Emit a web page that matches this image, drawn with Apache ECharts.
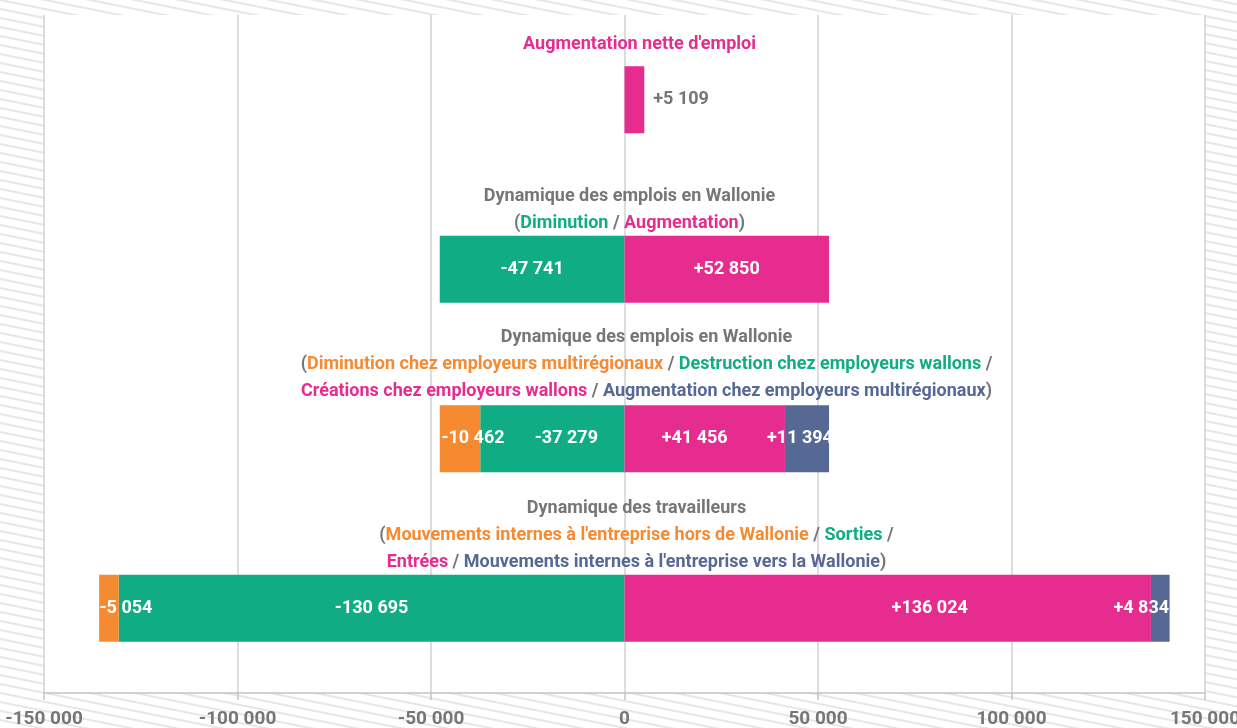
<!DOCTYPE html>
<html><head><meta charset="utf-8">
<script src="https://cdn.jsdelivr.net/npm/echarts@6/dist/echarts.min.js"></script>
<style>html,body{margin:0;padding:0;background:#fff;overflow:hidden}#c{width:1237px;height:728px}</style>
</head><body><div id="c"></div>
<script>
// ---- data ----
const categories = ["Augmentation nette d'emploi", "Dynamique des emplois (2)", "Dynamique des emplois (4)", "Dynamique des travailleurs"];
const seriesNames = ["Destruction / Sorties", "Diminution multirégionaux / Mouvements hors Wallonie", "Créations / Entrées", "Augmentation multirégionaux / Mouvements vers la Wallonie"];
const greenValues = [null, -47741, -37279, -130695];
const orangeValues = [null, null, -10462, -5054];
const magentaValues = [5109, 52850, 41456, 136024];
const blueValues = [null, null, 11394, 4834];
const xTicks = { min: -150000, max: 150000, step: 50000 };

// ---- style ----
const FONT = "Roboto,'Liberation Sans Narrow','Open Sans',sans-serif";
const C = { gray: '#767676', orange: '#F58A31', green: '#10AC84', magenta: '#E62C8F', blue: '#566894' };
const labelDx = { green: [0, 0, 14, 0], orange: [0, 0, 13, 17], magenta: [0, 0, -10, 42], blue: [0, 0, -7, -19] };

function fmt(v) {
  const s = Math.abs(v).toString().replace(/\B(?=(\d{3})+(?!\d))/g, ' ');
  return (v < 0 ? '-' : '+') + s;
}

function pattern() {
  const cv = document.createElement('canvas');
  cv.width = 45; cv.height = 9;
  const g = cv.getContext('2d');
  g.fillStyle = '#ffffff'; g.fillRect(0, 0, 45, 9);
  g.strokeStyle = '#e6e6e6'; g.lineWidth = 2;
  for (let k = -2; k <= 2; k++) {
    g.beginPath(); g.moveTo(-45, k * 9 - 9); g.lineTo(90, k * 9 + 18); g.stroke();
  }
  return { image: cv, repeat: 'repeat' };
}

function mkSeries(name, vals, color, key) {
  return {
    name, type: 'bar', stack: 'total', barWidth: 67,
    itemStyle: { color },
    data: vals.map((v, i) => {
      if (v == null) return null;
      const d = { value: v, label: { offset: [labelDx[key][i], 0] } };
      if (key === 'magenta' && i === 0) {
        d.label = { position: 'right', color: C.gray, offset: [4, 0] };
      }
      return d;
    }),
    label: {
      show: true, position: 'inside', color: '#fff', fontFamily: FONT, fontWeight: 'bold', fontSize: 18,
      formatter: p => fmt(p.value)
    }
  };
}

const chart = echarts.init(document.getElementById('c'));
chart.setOption({
  backgroundColor: pattern(),
  animation: false,
  grid: { left: 44, right: 32, top: 15, bottom: 35, show: true, backgroundColor: '#fff', borderWidth: 0, containLabel: false, outerBoundsMode: 'none' },
  xAxis: {
    type: 'value', min: xTicks.min, max: xTicks.max, interval: xTicks.step,
    axisLine: { show: true, lineStyle: { color: '#c4c4c4', width: 1.5 } },
    axisTick: { show: true, length: 7, lineStyle: { color: '#c4c4c4', width: 1.5 } },
    splitLine: { show: true, lineStyle: { color: '#d2d2d2', width: 1.5 } },
    axisLabel: { color: C.gray, fontFamily: FONT, fontWeight: 'bold', fontSize: 19, margin: 17, formatter: v => v === 0 ? '0' : (v < 0 ? '-' : '') + Math.abs(v).toString().replace(/\B(?=(\d{3})+(?!\d))/g, ' ') }
  },
  yAxis: { type: 'category', data: categories, inverse: true, axisLine: { show: false }, axisTick: { show: false }, axisLabel: { show: false } },
  series: [
    mkSeries(seriesNames[0], greenValues, C.green, 'green'),
    mkSeries(seriesNames[1], orangeValues, C.orange, 'orange'),
    mkSeries(seriesNames[2], magentaValues, C.magenta, 'magenta'),
    mkSeries(seriesNames[3], blueValues, C.blue, 'blue')
  ]
});

function rs(c) { return { fill: c, fontFamily: FONT, fontWeight: 'bold', fontSize: 18, lineHeight: 27 }; }
const rich = { g: rs(C.gray), o: rs(C.orange), n: rs(C.green), m: rs(C.magenta), b: rs(C.blue) };
const titles = [
  "{m|Augmentation nette d'emploi}",
  "{g|Dynamique des emplois en Wallonie}\n{g|(}{n|Diminution}{g| / }{m|Augmentation}{g|)}",
  "{g|Dynamique des emplois en Wallonie}\n{g|(}{o|Diminution chez employeurs multirégionaux}{g| / }{n|Destruction chez employeurs wallons}{g| /}\n{m|Créations chez employeurs wallons}{g| / }{b|Augmentation chez employeurs multirégionaux}{g|)}",
  "{g|Dynamique des travailleurs}\n{g|(}{o|Mouvements internes à l'entreprise hors de Wallonie}{g| / }{n|Sorties}{g| /}\n{m|Entrées}{g| / }{b|Mouvements internes à l'entreprise vers la Wallonie}{g|)}"
];
const titleDx = [15, 5, 22, 12];
const titleDy = [-42, -32, -34, -32];
const x0 = chart.convertToPixel({ xAxisIndex: 0 }, 0);
chart.setOption({
  graphic: titles.map((t, i) => {
    const yc = chart.convertToPixel({ yAxisIndex: 0 }, i);
    return {
      type: 'text', x: x0 + titleDx[i], y: yc + titleDy[i], z: 50,
      style: { text: t, rich, fill: C.gray, font: 'bold 18px ' + FONT, align: 'center', verticalAlign: 'bottom' }
    };
  })
});
</script></body></html>
